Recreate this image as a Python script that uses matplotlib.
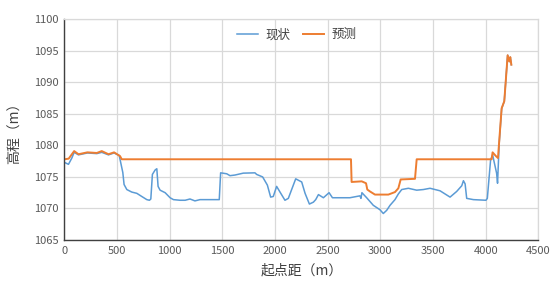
"""Plot current vs predicted elevation profile along the section."""

from __future__ import annotations

import matplotlib

matplotlib.use("Agg")
import matplotlib.pyplot as plt


CURRENT_X = [
    0, 38, 70, 92, 133, 218, 307, 354, 418, 471, 520, 535, 554, 566, 592, 639,
    687, 734, 782, 807, 820, 835, 861, 877, 889, 908, 956, 1003, 1035, 1097,
    1146, 1192, 1239, 1287, 1446, 1470, 1483, 1541, 1572, 1619, 1698, 1809,
    1825, 1882, 1927, 1958, 1983, 2015, 2047, 2094, 2126, 2196, 2253, 2285,
    2326, 2364, 2386, 2412, 2459, 2513, 2545, 2618, 2711, 2806, 2816, 2825,
    2870, 2933, 2996, 3028, 3060, 3092, 3139, 3171, 3203, 3266, 3345, 3408,
    3472, 3567, 3662, 3725, 3773, 3789, 3805, 3820, 3884, 4003, 4016, 4047,
    4066, 4104, 4113, 4129, 4152, 4177, 4209, 4225, 4234, 4244,
]
CURRENT_Y = [
    1077.3, 1077.0, 1078.0, 1078.9, 1078.5, 1078.8, 1078.7, 1078.9, 1078.5,
    1078.8, 1078.4, 1077.2, 1075.7, 1073.8, 1073.0, 1072.6, 1072.4, 1071.9,
    1071.4, 1071.3, 1071.5, 1075.4, 1076.1, 1076.3, 1073.5, 1072.9, 1072.5,
    1071.7, 1071.4, 1071.3, 1071.3, 1071.5, 1071.2, 1071.4, 1071.4, 1071.4,
    1075.65, 1075.5, 1075.2, 1075.3, 1075.6, 1075.65, 1075.4, 1075.0, 1073.7,
    1071.8, 1071.9, 1073.5, 1072.6, 1071.3, 1071.6, 1074.7, 1074.2, 1072.4,
    1070.7, 1071.0, 1071.4, 1072.2, 1071.7, 1072.5, 1071.7, 1071.7, 1071.7,
    1072.0, 1071.6, 1072.5, 1071.7, 1070.5, 1069.8, 1069.2, 1069.7, 1070.5,
    1071.4, 1072.3, 1073.0, 1073.2, 1072.9, 1073.0, 1073.2, 1072.8, 1071.8,
    1072.7, 1073.6, 1074.4, 1073.9, 1071.6, 1071.4, 1071.3, 1071.6, 1077.7,
    1078.5, 1075.6, 1074.0, 1080.4, 1085.8, 1087.0, 1094.3, 1093.3, 1094.0,
    1092.8,
]

FORECAST_X = [
    0, 40, 92, 133, 218, 307, 354, 418, 471, 528, 544, 2721, 2727, 2823, 2864,
    2876, 2901, 2949, 3076, 3139, 3171, 3193, 3329, 3345, 4057, 4066, 4098,
    4117, 4152, 4177, 4209, 4225, 4234, 4244,
]
FORECAST_Y = [
    1077.8, 1077.9, 1079.1, 1078.6, 1078.9, 1078.8, 1079.1, 1078.6, 1078.9,
    1078.3, 1077.8, 1077.8, 1074.2, 1074.3, 1074.0, 1073.0, 1072.7, 1072.2,
    1072.2, 1072.6, 1073.2, 1074.6, 1074.7, 1077.8, 1077.8, 1078.9, 1078.3,
    1078.0, 1085.9, 1087.0, 1094.3, 1093.3, 1094.0, 1092.8,
]

X_TICKS = [0, 500, 1000, 1500, 2000, 2500, 3000, 3500, 4000, 4500]
Y_TICKS = [1065, 1070, 1075, 1080, 1085, 1090, 1095, 1100]

BLUE = "#5B9BD5"
ORANGE = "#ED7D31"
TEXT = "#595959"
GRID = "#D9D9D9"


def main() -> int:
    plt.rcParams["font.family"] = ["Noto Sans CJK SC", "DejaVu Sans"]
    fig = plt.figure(figsize=(5.53, 2.87), dpi=100)
    ax = fig.add_axes((0.1166, 0.1638, 0.8568, 0.769))

    ax.plot(CURRENT_X, CURRENT_Y, color=BLUE, linewidth=1.1, label="现状")
    ax.plot(FORECAST_X, FORECAST_Y, color=ORANGE, linewidth=1.4, label="预测")

    ax.set_xlim(0, 4500)
    ax.set_ylim(1065, 1100)
    ax.set_xticks(X_TICKS)
    ax.set_yticks(Y_TICKS)
    ax.tick_params(length=0, labelsize=8, labelcolor=TEXT, pad=4)
    ax.grid(True, color=GRID, linewidth=0.9)
    ax.set_axisbelow(True)
    for side in ("top", "right"):
        ax.spines[side].set_color(GRID)
        ax.spines[side].set_linewidth(0.9)
    for side in ("left", "bottom"):
        ax.spines[side].set_color("#404040")
        ax.spines[side].set_linewidth(1.0)

    ax.set_xlabel("起点距（m）", fontsize=10, color="#404040", labelpad=6)
    ax.set_ylabel("高程（m）", fontsize=10, color="#404040", labelpad=9)
    ax.legend(
        loc="center",
        bbox_to_anchor=(0.49, 0.93),
        ncol=2,
        frameon=False,
        fontsize=9,
        labelcolor="#404040",
        handlelength=1.7,
        handletextpad=0.6,
        columnspacing=1.0,
    )

    fig.savefig("out.png", dpi=100)
    plt.close(fig)
    return 0


if __name__ == "__main__":
    raise SystemExit(main())
